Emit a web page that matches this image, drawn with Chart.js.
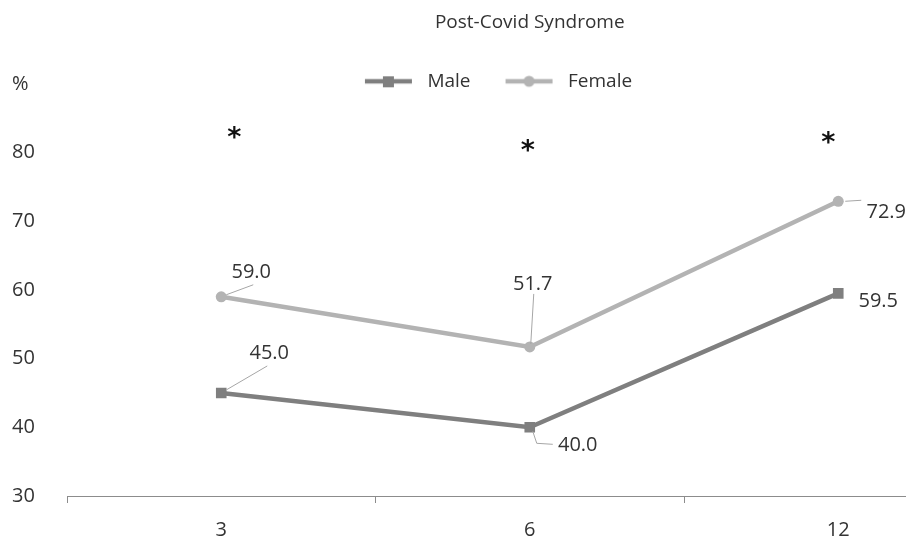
<!DOCTYPE html>
<html>
<head>
<meta charset="utf-8">
<script src="https://cdn.jsdelivr.net/npm/chart.js@4.4.1/dist/chart.umd.min.js"></script>
<style>
  html, body { margin: 0; padding: 0; background: #fff; overflow: hidden; }
  #wrap { width: 1000px; height: 547px; }
</style>
</head>
<body>
<div id="wrap"><canvas id="pcsChart" width="1000" height="547"></canvas></div>
<script>
// months after infection
let months = ['3', '6', '12']

// share with post-covid syndrome, %
let maleValues = [45.0, 40.0, 59.5]
let femaleValues = [59.0, 51.7, 72.9]

// significance asterisks, height in % units
let starHeights = [82.8, 80.9, 82.1]

let yTicks = [30, 40, 50, 60, 70, 80, 90]

let maleColor = '#7f7f7f'
let femaleColor = '#b3b3b3'
let textColor = '#333333'
let fontFamily = '"Open Sans", "Noto Sans", sans-serif'

// where each value label sits relative to its point (pixels), plus leader line
let labelStyle = {
    Male: [
        {dx: 48, dy: -40, lead: [[5, -3], [46, -27]]},
        {dx: 48, dy: 18, lead: [[3, 4], [7, 16], [23, 17]]},
        {dx: 40, dy: 8, lead: null}
    ],
    Female: [
        {dx: 30, dy: -24, lead: [[5, -2], [32, -12]]},
        {dx: 3, dy: -63, lead: [[1, -3], [4, -53]]},
        {dx: 48, dy: 11, lead: [[7, 0], [23, -1]]}
    ]
}
let starShift = [13, -2, -10]

// legend sample: short line with the marker in the middle
function legendSample(color, shape) {
    let c = document.createElement('canvas')
    c.width = 58
    c.height = 14
    let g = c.getContext('2d')
    g.strokeStyle = color
    g.lineWidth = 4.5
    g.beginPath()
    g.moveTo(5, 7)
    g.lineTo(52, 7)
    g.stroke()
    g.fillStyle = color
    if (shape === 'rect') {
        g.fillRect(23, 2, 11, 11)
    } else {
        g.beginPath()
        g.arc(28.5, 7, 5.5, 0, Math.PI * 2)
        g.fill()
    }
    return c
}

let valueLabels = {
    id: 'valueLabels',
    afterLayout(chart) {
        // let the legend text spill over the top of the plot instead of being clipped,
        // and nudge it a little left like in the original
        if (chart.legend) {
            chart.legend.bottom += 30
            chart.legend.left -= 7
            chart.legend.right -= 7
        }
    },
    afterDatasetsDraw(chart) {
        let ctx = chart.ctx
        ctx.save()
        ctx.font = '20px ' + fontFamily
        ctx.fillStyle = textColor
        ctx.textAlign = 'center'
        ctx.textBaseline = 'middle'
        chart.data.datasets.forEach(function (ds, di) {
            let meta = chart.getDatasetMeta(di)
            meta.data.forEach(function (pt, i) {
                let st = labelStyle[ds.label][i]
                if (st.lead) {
                    ctx.strokeStyle = '#a6a6a6'
                    ctx.lineWidth = 1
                    ctx.beginPath()
                    st.lead.forEach(function (p, k) {
                        if (k === 0) ctx.moveTo(pt.x + p[0], pt.y + p[1])
                        else ctx.lineTo(pt.x + p[0], pt.y + p[1])
                    })
                    ctx.stroke()
                }
                ctx.fillText(ds.data[i].toFixed(1), pt.x + st.dx, pt.y + st.dy)
            })
        })

        // asterisks
        let xs = chart.scales.x
        let ys = chart.scales.y
        ctx.font = 'bold 27px "DejaVu Sans", sans-serif'
        ctx.fillStyle = '#111'
        starHeights.forEach(function (h, i) {
            ctx.fillText('*', xs.getPixelForValue(i) + starShift[i], ys.getPixelForValue(h) + 6)
        })
        ctx.restore()
    }
}

let ctx = document.getElementById('pcsChart').getContext('2d')

let pcsChart = new Chart(ctx, {
    type: 'line',
    data: {
        labels: months,
        datasets: [
            {
                label: 'Male',
                data: maleValues,
                borderColor: maleColor,
                backgroundColor: maleColor,
                borderWidth: 4.5,
                pointStyle: 'rect',
                pointRadius: 7.5,
                pointHoverRadius: 7.5,
                pointBorderWidth: 0
            },
            {
                label: 'Female',
                data: femaleValues,
                borderColor: femaleColor,
                backgroundColor: femaleColor,
                borderWidth: 4.5,
                pointStyle: 'circle',
                pointRadius: 5.5,
                pointHoverRadius: 5.5,
                pointBorderWidth: 0
            }
        ]
    },
    options: {
        responsive: false,
        animation: false,
        layout: {
            padding: {left: 12, right: 6, top: 0, bottom: 0}
        },
        plugins: {
            title: {
                display: true,
                text: 'Post-Covid Syndrome',
                fullSize: false,
                color: textColor,
                font: {family: fontFamily, size: 19, weight: 'normal'},
                padding: {top: 11, bottom: 8}
            },
            legend: {
                display: true,
                maxHeight: 42,
                labels: {
                    usePointStyle: true,
                    pointStyleWidth: 58,
                    padding: 30,
                    color: textColor,
                    font: {family: fontFamily, size: 19},
                    generateLabels: function (chart) {
                        return [
                            {text: 'Male', pointStyle: legendSample(maleColor, 'rect'), datasetIndex: 0, fontColor: textColor, lineWidth: 0},
                            {text: 'Female', pointStyle: legendSample(femaleColor, 'circle'), datasetIndex: 1, fontColor: textColor, lineWidth: 0}
                        ]
                    }
                }
            },
            tooltip: {enabled: false}
        },
        scales: {
            x: {
                offset: true,
                afterFit: function (scale) {
                    scale.height = 51
                },
                grid: {
                    offset: true,
                    drawOnChartArea: false,
                    tickLength: 7,
                    color: '#8c8c8c'
                },
                border: {color: '#8c8c8c', width: 1},
                ticks: {
                    color: textColor,
                    font: {family: fontFamily, size: 20},
                    padding: 15
                }
            },
            y: {
                min: 30,
                max: 90,
                afterBuildTicks: function (scale) {
                    scale.ticks = yTicks.map(v => ({value: v}))
                },
                afterFit: function (scale) {
                    scale.width = 55
                },
                grid: {display: false},
                border: {display: false},
                ticks: {
                    color: textColor,
                    crossAlign: 'far',
                    font: {family: fontFamily, size: 20},
                    callback: function (v) {
                        return v === 90 ? '%' : v
                    }
                }
            }
        }
    },
    plugins: [valueLabels]
})
</script>
</body>
</html>
